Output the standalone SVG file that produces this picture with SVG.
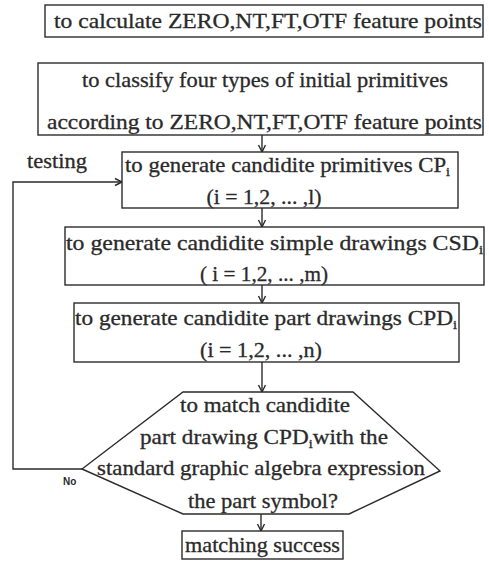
<svg xmlns="http://www.w3.org/2000/svg" width="489" height="561" viewBox="0 0 489 561">
<style>
.box{fill:#fff;stroke:#2b2b2b;stroke-width:1.4}
.t{font-family:"Liberation Serif","Times New Roman",serif;font-size:21px;fill:#2a2a2a;stroke:#2a2a2a;stroke-width:0.3;text-anchor:middle}
.s{font-size:13px}
.c{fill:none;stroke:#2b2b2b;stroke-width:1.4}
.lbl{font-family:"Liberation Serif","Times New Roman",serif;font-size:21px;fill:#2a2a2a;stroke:#2a2a2a;stroke-width:0.3}
.no{font-family:"Liberation Sans",Arial,sans-serif;font-size:10px;fill:#2a2a2a;font-weight:bold}
</style>
<defs>
<marker id="ah" markerWidth="10" markerHeight="10" refX="8" refY="5" orient="auto" markerUnits="userSpaceOnUse">
<path d="M1,1.5 L8,5 L1,8.5" fill="none" stroke="#2b2b2b" stroke-width="1.4"/>
</marker>
</defs>
<rect width="489" height="561" fill="#fff"/>
<g id="connectors">
<line class="c" x1="262" y1="135" x2="262" y2="152" marker-end="url(#ah)"/>
<line class="c" x1="262" y1="208" x2="262" y2="227" marker-end="url(#ah)"/>
<line class="c" x1="262" y1="285" x2="262" y2="303" marker-end="url(#ah)"/>
<line class="c" x1="262" y1="362" x2="262" y2="392" marker-end="url(#ah)"/>
<line class="c" x1="261" y1="514" x2="261" y2="531" marker-end="url(#ah)"/>
<polyline class="c" points="82,469 13,469 13,182 122,182" marker-end="url(#ah)"/>
<text class="lbl" x="27" y="168" textLength="60" lengthAdjust="spacingAndGlyphs">testing</text>
<text class="no" x="63" y="485">No</text>
</g>
<g id="n1">
<rect class="box" x="45" y="5" width="438" height="32"/>
<text class="t" x="268" y="28" textLength="428" lengthAdjust="spacingAndGlyphs">to calculate ZERO,NT,FT,OTF feature points</text>
</g>
<g id="n2">
<rect class="box" x="38" y="63" width="445" height="72"/>
<text class="t" x="265" y="87" textLength="366" lengthAdjust="spacingAndGlyphs">to classify four types of initial primitives</text>
<text class="t" x="264.5" y="129" textLength="435" lengthAdjust="spacingAndGlyphs">according to ZERO,NT,FT,OTF feature points</text>
</g>
<g id="n3">
<rect class="box" x="122" y="152" width="336" height="56"/>
<text class="t" x="287.5" y="172" textLength="325" lengthAdjust="spacingAndGlyphs">to generate candidite primitives CP<tspan class="s" dy="4">i</tspan></text>
<text class="t" x="264" y="204" textLength="115" lengthAdjust="spacingAndGlyphs">(i = 1,2, ... ,l)</text>
</g>
<g id="n4">
<rect class="box" x="65" y="227" width="419" height="58"/>
<text class="t" x="274.5" y="250" textLength="417" lengthAdjust="spacingAndGlyphs">to generate candidite simple drawings CSD<tspan class="s" dy="4">i</tspan></text>
<text class="t" x="264" y="281" textLength="128" lengthAdjust="spacingAndGlyphs">( i = 1,2, ... ,m)</text>
</g>
<g id="n5">
<rect class="box" x="74" y="303" width="385" height="59"/>
<text class="t" x="266" y="325" textLength="382" lengthAdjust="spacingAndGlyphs">to generate candidite part drawings CPD<tspan class="s" dy="4">i</tspan></text>
<text class="t" x="261" y="357" textLength="122" lengthAdjust="spacingAndGlyphs">(i = 1,2, ... ,n)</text>
</g>
<g id="n6">
<polygon class="box" points="183,392 353,392 440,471 349,514 183,514 82,469"/>
<text class="t" x="265" y="412" textLength="170" lengthAdjust="spacingAndGlyphs">to match candidite</text>
<text class="t" x="264" y="444" textLength="248" lengthAdjust="spacingAndGlyphs">part drawing CPD<tspan class="s" dy="4">i</tspan><tspan dy="-4">with the</tspan></text>
<text class="t" x="261" y="475" textLength="328" lengthAdjust="spacingAndGlyphs">standard graphic algebra expression</text>
<text class="t" x="263" y="508" textLength="150" lengthAdjust="spacingAndGlyphs">the part symbol?</text>
</g>
<g id="n7">
<rect class="box" x="182" y="531" width="161" height="28"/>
<text class="t" x="262.5" y="552" textLength="155" lengthAdjust="spacingAndGlyphs">matching success</text>
</g>
</svg>
